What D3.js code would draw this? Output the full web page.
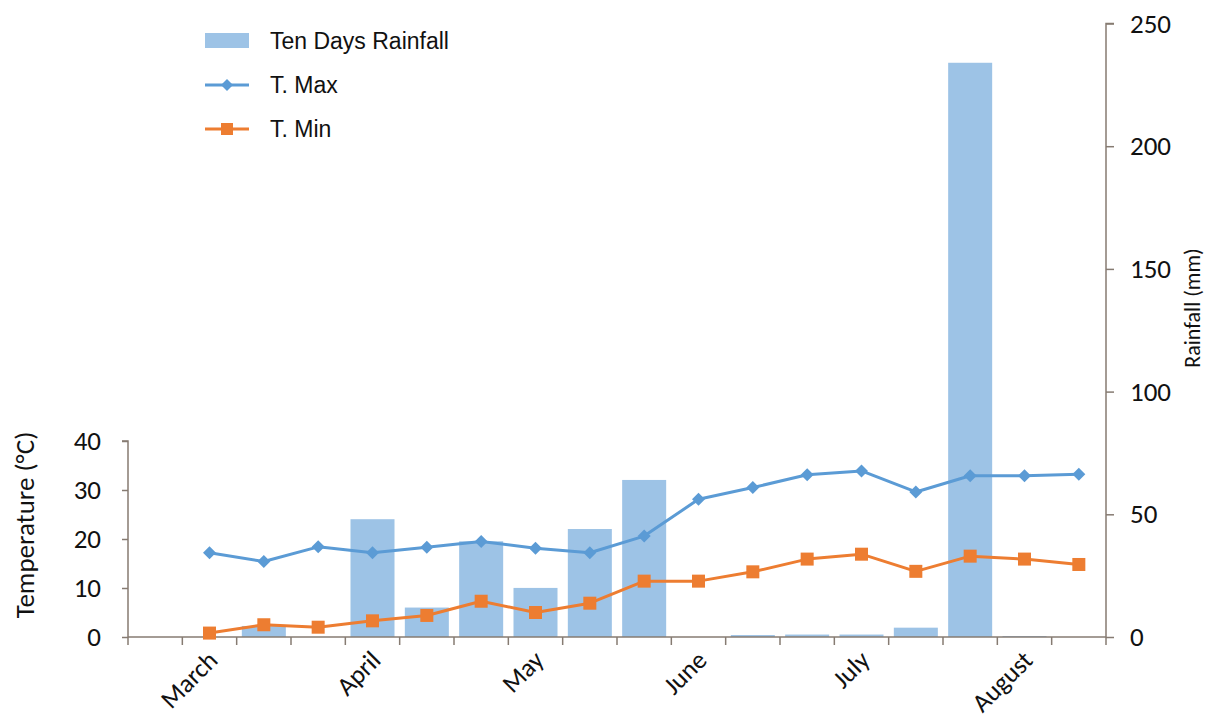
<!DOCTYPE html>
<html>
<head>
<meta charset="utf-8">
<script src="https://cdn.jsdelivr.net/npm/d3@7"></script>
<style>
  html, body { margin: 0; padding: 0; background: #fff; }
  svg { display: block; }
</style>
</head>
<body>
<svg id="chart" width="1213" height="723"></svg>
<script>
// Ten-day periods (dekads), March to August
const dekads = [
  "Mar I", "Mar II", "Mar III",
  "Apr I", "Apr II", "Apr III",
  "May I", "May II", "May III",
  "Jun I", "Jun II", "Jun III",
  "Jul I", "Jul II", "Jul III",
  "Aug I", "Aug II", "Aug III"
];
// Month names shown under the middle dekad of each month
const monthLabels = {
  "Mar II": "March", "Apr II": "April", "May II": "May",
  "Jun II": "June", "Jul II": "July", "Aug II": "August"
};
// Ten days rainfall (mm)
const rainfall = [0, 0, 4.5, 0, 48, 12, 39, 20, 44, 64, 0, 0.8, 1.0, 1.0, 3.8, 234, 0.4, 0];
// Maximum and minimum temperature (°C); no record for the first dekad
const tMax = [null, 17.2, 15.4, 18.4, 17.2, 18.3, 19.5, 18.1, 17.2, 20.6, 28.1, 30.5, 33.1, 33.9, 29.6, 32.9, 32.9, 33.2];
const tMin = [null, 0.8, 2.5, 2.0, 3.3, 4.4, 7.3, 5.0, 6.9, 11.4, 11.4, 13.3, 15.9, 16.9, 13.4, 16.5, 15.9, 14.8];
const tempTicks = [0, 10, 20, 30, 40];
const rainTicks = [0, 50, 100, 150, 200, 250];

const C = {
  bar: "#9dc3e6",
  max: "#5b9bd5",
  min: "#ed7d31",
  axis: "#867b72",
  text: "#111111"
};
const numFont = "Carlito, Lato, sans-serif";
const legFont = "'Liberation Sans', Arial, sans-serif";

const svg = d3.select("#chart");

const x0 = 128, x1 = 1106, yBase = 637;
const x = d3.scaleBand().domain(dekads).range([x0, x1]).padding(0);
const bw = x.bandwidth();
const cx = d => x(d) + bw / 2;

const yT = d3.scaleLinear().domain([0, 40]).range([yBase, 441]);
const yR = d3.scaleLinear().domain([0, 250]).range([yBase, 23.5]);

// Diamond marker: a square turned by 45 degrees
const diamond = r => `M0,${-r}L${r},0L0,${r}L${-r},0Z`;

// Rainfall bars
const barW = bw * 0.81;
svg.append("g").selectAll("rect")
  .data(dekads.map((d, i) => ({ d, v: rainfall[i] })).filter(e => e.v > 0))
  .join("rect")
  .attr("x", e => cx(e.d) - barW / 2)
  .attr("width", barW)
  .attr("y", e => yR(e.v))
  .attr("height", e => yBase - yR(e.v))
  .attr("fill", C.bar);

// Left axis (temperature)
const leftAxis = d3.axisLeft(yT).tickValues(tempTicks).tickSize(6).tickPadding(21).tickFormat(d3.format("d"));
const gL = svg.append("g").attr("transform", `translate(${x0},0)`).call(leftAxis);
gL.select(".domain").attr("stroke", C.axis).attr("stroke-width", 1.5).attr("d", `M-6,${yT(40)}H0V${yBase}`);
gL.selectAll(".tick line").attr("stroke", C.axis).attr("stroke-width", 1.5);
gL.selectAll(".tick text").attr("fill", C.text).style("font-family", numFont).style("font-size", "27px");

// Right axis (rainfall)
const rightAxis = d3.axisRight(yR).tickValues(rainTicks).tickSize(8).tickPadding(16).tickFormat(d3.format("d"));
const gR = svg.append("g").attr("transform", `translate(${x1},0)`).call(rightAxis);
gR.select(".domain").attr("stroke", C.axis).attr("stroke-width", 1.5).attr("d", `M8,${yR(250)}H0V${yBase}`);
gR.selectAll(".tick line").attr("stroke", C.axis).attr("stroke-width", 1.5);
gR.selectAll(".tick text").attr("fill", C.text).style("font-family", numFont).style("font-size", "27px");

// Category axis: tick marks at dekad boundaries
const bounds = dekads.map(d => x(d)).concat([x1]);
const gX = svg.append("g");
gX.append("line").attr("x1", x0).attr("x2", x1).attr("y1", yBase).attr("y2", yBase)
  .attr("stroke", C.axis).attr("stroke-width", 1.5);
gX.selectAll("line.tk").data(bounds).join("line").attr("class", "tk")
  .attr("x1", d => d).attr("x2", d => d).attr("y1", yBase).attr("y2", yBase + 8)
  .attr("stroke", C.axis).attr("stroke-width", 1.5);
gX.selectAll("text").data(dekads.filter(d => monthLabels[d]))
  .join("text")
  .attr("transform", d => `translate(${cx(d) - 4},${yBase + 11}) rotate(-45)`)
  .attr("text-anchor", "end")
  .attr("dy", "0.75em")
  .attr("fill", C.text)
  .style("font-family", numFont).style("font-size", "26px")
  .text(d => monthLabels[d]);

// Temperature lines
const line = d3.line().defined(v => v.t != null).x(v => cx(v.d)).y(v => yT(v.t));
const maxPts = dekads.map((d, i) => ({ d, t: tMax[i] }));
const minPts = dekads.map((d, i) => ({ d, t: tMin[i] }));

svg.append("path").datum(maxPts).attr("d", line)
  .attr("fill", "none").attr("stroke", C.max).attr("stroke-width", 3).attr("stroke-linejoin", "round");
svg.append("g").selectAll("path").data(maxPts.filter(v => v.t != null)).join("path")
  .attr("d", diamond(6.5))
  .attr("transform", v => `translate(${cx(v.d)},${yT(v.t)})`)
  .attr("fill", C.max);

svg.append("path").datum(minPts).attr("d", line)
  .attr("fill", "none").attr("stroke", C.min).attr("stroke-width", 3).attr("stroke-linejoin", "round");
svg.append("g").selectAll("rect").data(minPts.filter(v => v.t != null)).join("rect")
  .attr("x", v => cx(v.d) - 6.5).attr("y", v => yT(v.t) - 6.5)
  .attr("width", 13).attr("height", 13)
  .attr("fill", C.min);

// Axis titles
svg.append("text")
  .attr("transform", `translate(24,${(yT(40) + yBase) / 2 - 14}) rotate(-90)`)
  .attr("text-anchor", "middle").attr("dominant-baseline", "central")
  .attr("fill", C.text).style("font-family", numFont).style("font-size", "27px")
  .text("Temperature (°C)");
svg.append("text")
  .attr("transform", `translate(1192,308) rotate(-90)`)
  .attr("text-anchor", "middle").attr("dominant-baseline", "central")
  .attr("fill", C.text).style("font-family", numFont).style("font-size", "22px")
  .text("Rainfall (mm)");

// Legend
const leg = svg.append("g").style("font-family", legFont).style("font-size", "23px").attr("fill", C.text);
leg.append("rect").attr("x", 205).attr("y", 33).attr("width", 44).attr("height", 15).attr("fill", C.bar);
leg.append("text").attr("x", 270).attr("y", 41).attr("dominant-baseline", "central").text("Ten Days Rainfall");

leg.append("line").attr("x1", 205).attr("x2", 249).attr("y1", 85).attr("y2", 85).attr("stroke", C.max).attr("stroke-width", 3);
leg.append("path").attr("d", diamond(6)).attr("transform", "translate(227,85)").attr("fill", C.max);
leg.append("text").attr("x", 270).attr("y", 85).attr("dominant-baseline", "central").text("T. Max");

leg.append("line").attr("x1", 205).attr("x2", 249).attr("y1", 129).attr("y2", 129).attr("stroke", C.min).attr("stroke-width", 3);
leg.append("rect").attr("x", 221).attr("y", 123).attr("width", 12).attr("height", 12).attr("fill", C.min);
leg.append("text").attr("x", 270).attr("y", 129).attr("dominant-baseline", "central").text("T. Min");
</script>
</body>
</html>
